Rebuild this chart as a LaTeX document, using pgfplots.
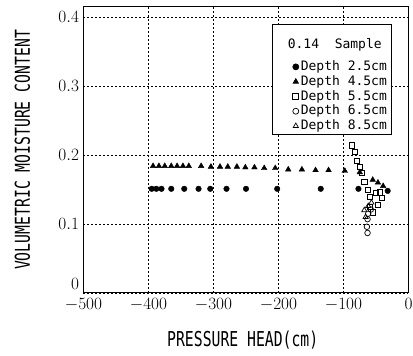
\documentclass[border=0pt]{standalone}
\usepackage{pgfplots}
\pgfplotsset{compat=1.18}
\usepackage{fontspec}
\setmainfont{Liberation Serif}
\newfontfamily\dmono{DejaVu Sans Mono}
\begin{document}
\begin{tikzpicture}
\useasboundingbox (-83.5pt,-63pt) rectangle (329.5pt,293pt);
\begin{axis}[
  scale only axis, width=325pt, height=286pt,
  xmin=-500, xmax=0, ymin=0, ymax=0.4145,
  xtick={-500,-400,-300,-200,-100,0},
  ytick={0,0.1,0.2,0.3,0.4},
  yticklabels={\raisebox{3pt}[0pt][0pt]{$0$},$0.1$,$0.2$,$0.3$,$0.4$},
  grid=major,
  grid style={black, line width=0.6pt, dash pattern=on 2pt off 2pt},
  major tick length=0pt,
  axis line style={black, line width=1pt},
  tick label style={font=\fontsize{16}{16}\selectfont},
  xticklabel style={yshift=-1.5pt},
  yticklabel style={xshift=-1pt},
  xlabel={\scalebox{0.72}[1]{\dmono\fontsize{20.5}{20.5}\selectfont PRESSURE HEAD(cm)}},
  ylabel={\scalebox{0.72}[1]{\dmono\fontsize{20.5}{20.5}\selectfont VOLUMETRIC MOISTURE CONTENT}},
  xlabel style={at={(rel axis cs:0.49,-0.164)}, anchor=center},
  ylabel style={at={(rel axis cs:-0.188,0.5)}, anchor=center},
  legend style={at={(rel axis cs:0.58,0.9406)}, anchor=north west,
    draw=black, line width=0.8pt, fill=white,
    font=\dmono\fontsize{13}{14}\selectfont, row sep=-1.8pt,
    inner xsep=3pt, inner ysep=0pt, nodes={text depth=}},
  legend cell align=left,
  legend image code/.code={\path (-20pt,0pt); \draw[#1, only marks, line width=0.7pt, mark size=3pt] plot coordinates {(0pt,0pt)};},
]
\addlegendimage{empty legend}
\addlegendentry{\hspace*{-13pt}\raisebox{0pt}[22pt][10pt]{0.14\ \ Sample}}
\addplot[only marks, mark=*, mark size=2.8pt, black] coordinates {
(-395,0.151) (-388,0.151) (-380,0.151) (-365,0.151) (-345,0.151) (-323,0.151) (-305,0.151) (-280,0.151) (-250,0.151) (-202,0.151) (-135,0.151) (-77,0.151) (-32,0.148)
};
\addlegendentry{Depth 2.5cm}
\addplot[only marks, mark=triangle*, mark size=3.2pt, black] coordinates {
(-393,0.184) (-384,0.184) (-375,0.184) (-365,0.184) (-356,0.184) (-347,0.184) (-338,0.184) (-319,0.184) (-304,0.183) (-290,0.183) (-278,0.183) (-264,0.183) (-251,0.182) (-237,0.182) (-222,0.181) (-205,0.181) (-185,0.179) (-164,0.179) (-143,0.178) (-123,0.178) (-98,0.177) (-75,0.175) (-55,0.164) (-47,0.160) (-39,0.155)
};
\addlegendentry{Depth 4.5cm}
\addplot[only marks, mark=square, mark size=2.6pt, black, line width=0.7pt, mark options={fill=white}] coordinates {
(-87,0.214) (-82,0.204) (-79,0.191) (-75,0.183) (-72,0.174) (-68,0.161) (-62,0.149) (-59,0.139) (-50,0.145) (-44,0.146) (-41,0.138) (-47,0.128) (-55,0.117) (-59,0.125)
};
\addlegendentry{Depth 5.5cm}
\addplot[only marks, mark=o, mark size=2.8pt, black, line width=0.7pt, mark options={fill=white}] coordinates {
(-58,0.121) (-62,0.115) (-63,0.107) (-64,0.096) (-63,0.087)
};
\addlegendentry{Depth 6.5cm}
\addplot[only marks, mark=triangle, mark size=3pt, black, line width=0.7pt, mark options={fill=white}] coordinates {
(-57,0.131) (-62,0.126) (-68,0.120) (-66,0.110)
};
\addlegendentry{Depth 8.5cm}
\end{axis}
\end{tikzpicture}
\end{document}
